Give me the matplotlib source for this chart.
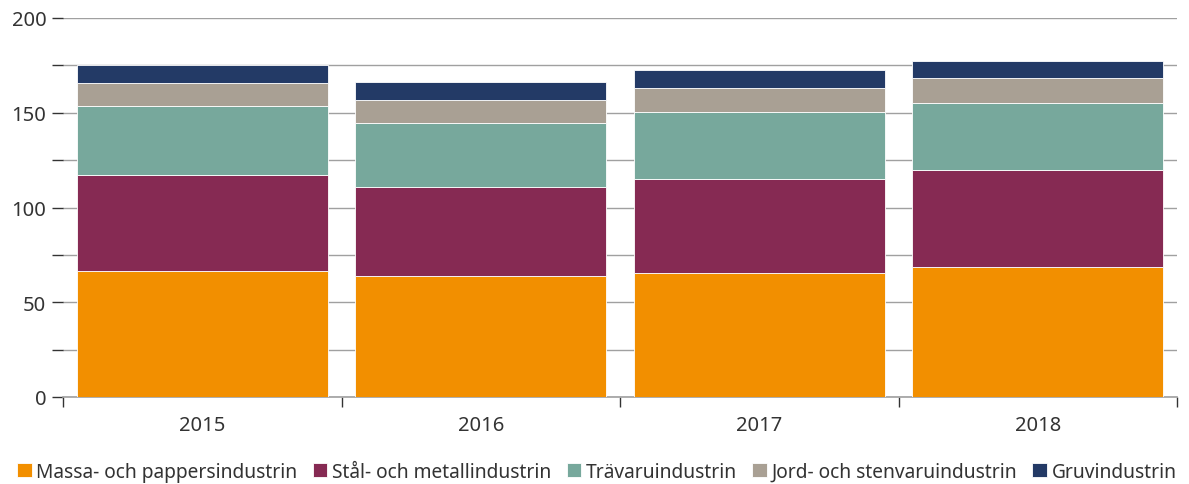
import matplotlib
matplotlib.use("Agg")
import matplotlib.pyplot as plt
import numpy as np

years = ["2015", "2016", "2017", "2018"]
series_names = ["Massa- och pappersindustrin", "Stål- och metallindustrin",
                "Trävaruindustrin", "Jord- och stenvaruindustrin", "Gruvindustrin"]
massa = [66.5, 63.9, 65.4, 68.6]
stal = [50.7, 46.9, 49.6, 51.2]
trava = [36.4, 33.8, 35.4, 35.3]
jord = [12.1, 12.1, 12.4, 13.2]
gruv = [9.5, 9.5, 9.8, 9.0]
colors = ["#F28F00", "#862A53", "#77A89C", "#A9A094", "#233A66"]

plt.rcParams['font.family'] = ['Noto Sans', 'DejaVu Sans']

fig = plt.figure(figsize=(11.89, 4.85), dpi=100)
ax = fig.add_axes([63/1189, 1-398/485, (1177-63)/1189, (398-19)/485])

x = np.arange(len(years))
bottom = np.zeros(len(years))
for name, vals, c in zip(series_names, [massa, stal, trava, jord, gruv], colors):
    ax.bar(x, vals, width=0.9, bottom=bottom, color=c, label=name,
           edgecolor="white", linewidth=0.6, zorder=3)
    bottom += np.array(vals)

ax.set_xlim(-0.5, len(years) - 0.5)
ax.set_ylim(0, 200)
ax.set_yticks(np.arange(0, 201, 50))
ax.set_yticks(np.arange(25, 200, 50), minor=True)
ax.yaxis.grid(True, which="both", color="#A0A0A0", linewidth=1.0, zorder=0)
ax.tick_params(axis="y", which="both", length=8, width=1, color="#333333",
               labelsize=14.5, labelcolor="#333333", pad=4)

ax.set_xticks(np.arange(-0.5, len(years), 1.0))
ax.set_xticklabels([])
ax.set_xticks(x, minor=True)
ax.set_xticklabels(years, minor=True)
ax.tick_params(axis="x", which="major", length=7, width=1, color="#333333")
ax.tick_params(axis="x", which="minor", length=0, labelsize=14.5, labelcolor="#333333", pad=13)

for s in ["top", "right", "left"]:
    ax.spines[s].set_visible(False)
ax.spines["bottom"].set_color("#A0A0A0")
ax.spines["bottom"].set_linewidth(1.2)

handles, labels = ax.get_legend_handles_labels()
fig.legend(handles, labels, loc="center left", bbox_to_anchor=(0.0, 1 - 473/485),
           ncol=5, frameon=False, fontsize=13.8, handlelength=0.75, handleheight=0.75,
           handletextpad=0.25, columnspacing=0.8, labelcolor="#333333")

fig.savefig("out.png", dpi=100)
